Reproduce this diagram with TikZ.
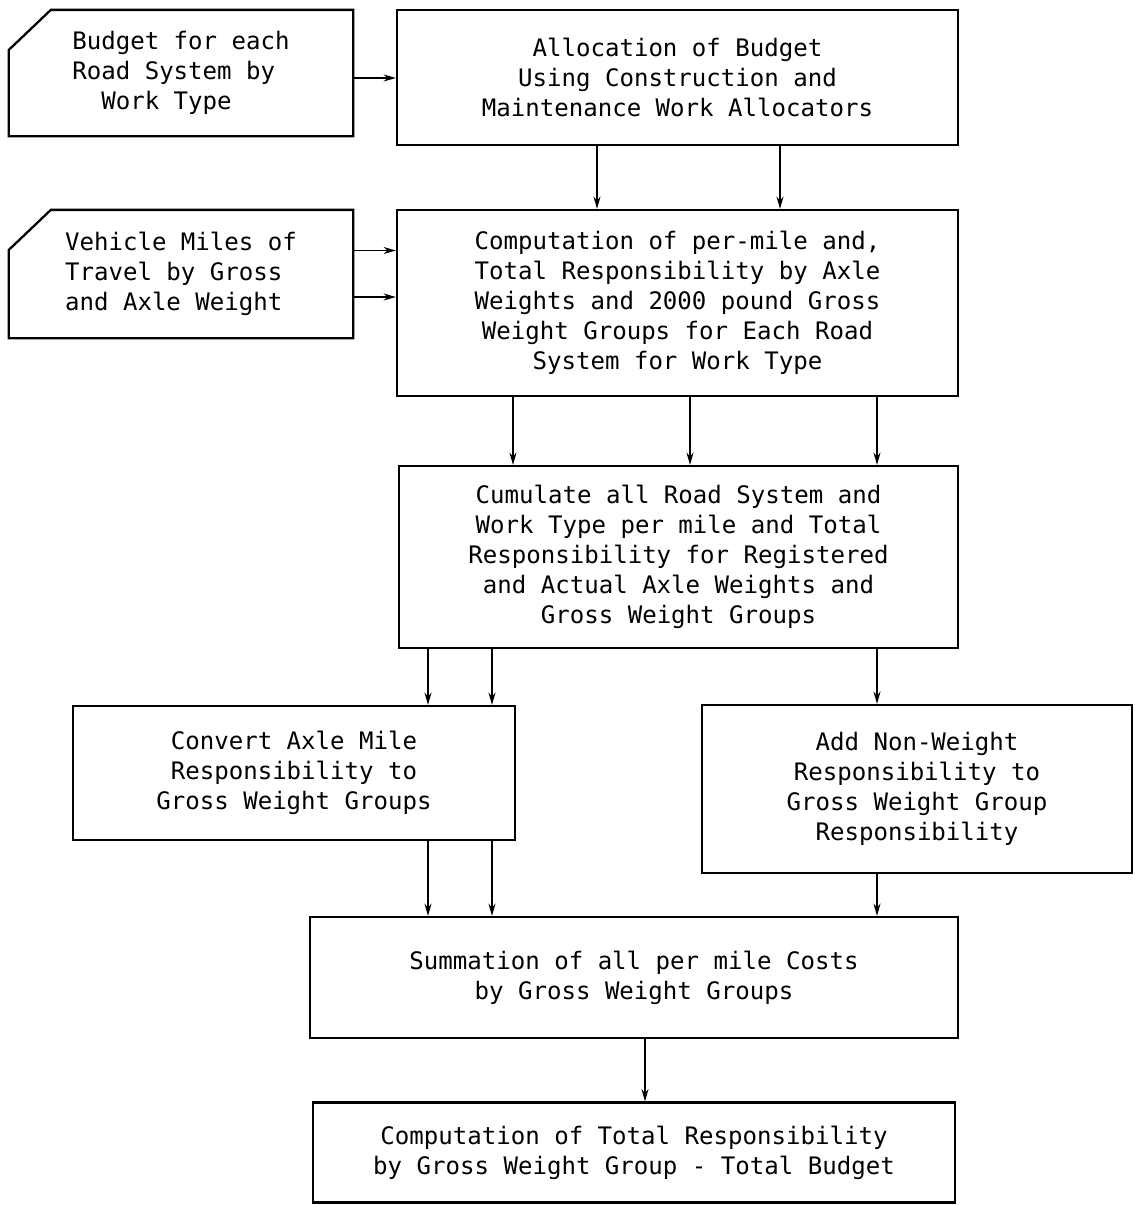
\documentclass[tikz,border=0pt]{standalone}
\usepackage{fontspec}
\setmonofont{DejaVu Sans Mono}
\usetikzlibrary{arrows.meta}
\newcommand{\cardoutline}[1]{%
  \draw[thick line] ([yshift=-0.8cm]#1.north west) -- ([xshift=0.84cm]#1.north west)
    -- (#1.north east) -- (#1.south east) -- (#1.south west) -- cycle;}

\begin{document}
\begin{tikzpicture}[
    box/.style = {draw, line width=1.3pt, align=center, inner sep=0pt,
      font=\ttfamily\fontsize{13.7}{17}\selectfont},
    card/.style = {box, draw=none, align=left},
    thick line/.style = {line width=1.3pt},
    flow/.style = {line width=0.9pt, -{Stealth[length=7pt,width=4pt]}}]
    \useasboundingbox (0,0) rectangle (22.68,-24.1);

    % inputs
    \node[card, minimum width=6.84cm, minimum height=2.48cm] (budget) at (3.62,-1.46)
      {Budget for each\\Road System by\\\phantom{Wo}Work Type};
    \cardoutline{budget}
    \node[card, minimum width=6.84cm, minimum height=2.52cm] (vmt) at (3.62,-5.48)
      {Vehicle Miles of\\Travel by Gross\\and Axle Weight};
    \cardoutline{vmt}

    % processing steps
    \node[box, minimum width=11.22cm, minimum height=2.7cm] (alloc) at (13.55,-1.55)
      {Allocation of Budget\\Using Construction and\\Maintenance Work Allocators};
    \node[box, minimum width=11.22cm, minimum height=3.72cm] (resp) at (13.55,-6.06)
      {Computation of per-mile and,\\Total Responsibility by Axle\\Weights and 2000 pound Gross\\Weight Groups for Each Road\\System for Work Type};
    \node[box, minimum width=11.18cm, minimum height=3.64cm] (cum) at (13.57,-11.14)
      {Cumulate all Road System and\\Work Type per mile and Total\\Responsibility for Registered\\and Actual Axle Weights and\\Gross Weight Groups};
    \node[box, minimum width=8.84cm, minimum height=2.68cm] (conv) at (5.88,-15.46)
      {Convert Axle Mile\\Responsibility to\\Gross Weight Groups};
    \node[box, minimum width=8.6cm, minimum height=3.36cm] (nonw) at (18.34,-15.78)
      {Add Non-Weight\\Responsibility to\\Gross Weight Group\\Responsibility};
    \node[box, minimum width=12.96cm, minimum height=2.42cm] (sum) at (12.68,-19.55)
      {Summation of all per mile Costs\\by Gross Weight Groups};
    \node[box, minimum width=12.84cm, minimum height=2.0cm] (tot) at (12.68,-23.05)
      {Computation of Total Responsibility\\by Gross Weight Group - Total Budget};

    % arrows
    \draw[flow] ([yshift=-0.1cm]budget.east) -- ([yshift=-0.1cm]budget.east -| alloc.west);
    \draw[flow] ([yshift=0.47cm]vmt.east) -- ([yshift=0.47cm]vmt.east -| resp.west);
    \draw[flow] ([yshift=-0.46cm]vmt.east) -- ([yshift=-0.46cm]vmt.east -| resp.west);
    \foreach \x in {11.94,15.6}
      \draw[flow] (alloc.south -| \x,0) -- (resp.north -| \x,0);
    \foreach \x in {10.26,13.8,17.54}
      \draw[flow] (resp.south -| \x,0) -- (cum.north -| \x,0);
    \foreach \x in {8.56,9.84}
      \draw[flow] (cum.south -| \x,0) -- (conv.north -| \x,0);
    \draw[flow] (cum.south -| 17.54,0) -- (nonw.north -| 17.54,0);
    \foreach \x in {8.56,9.84}
      \draw[flow] (conv.south -| \x,0) -- (sum.north -| \x,0);
    \draw[flow] (nonw.south -| 17.54,0) -- (sum.north -| 17.54,0);
    \draw[flow] (sum.south -| 12.9,0) -- (tot.north -| 12.9,0);
\end{tikzpicture}
\end{document}
